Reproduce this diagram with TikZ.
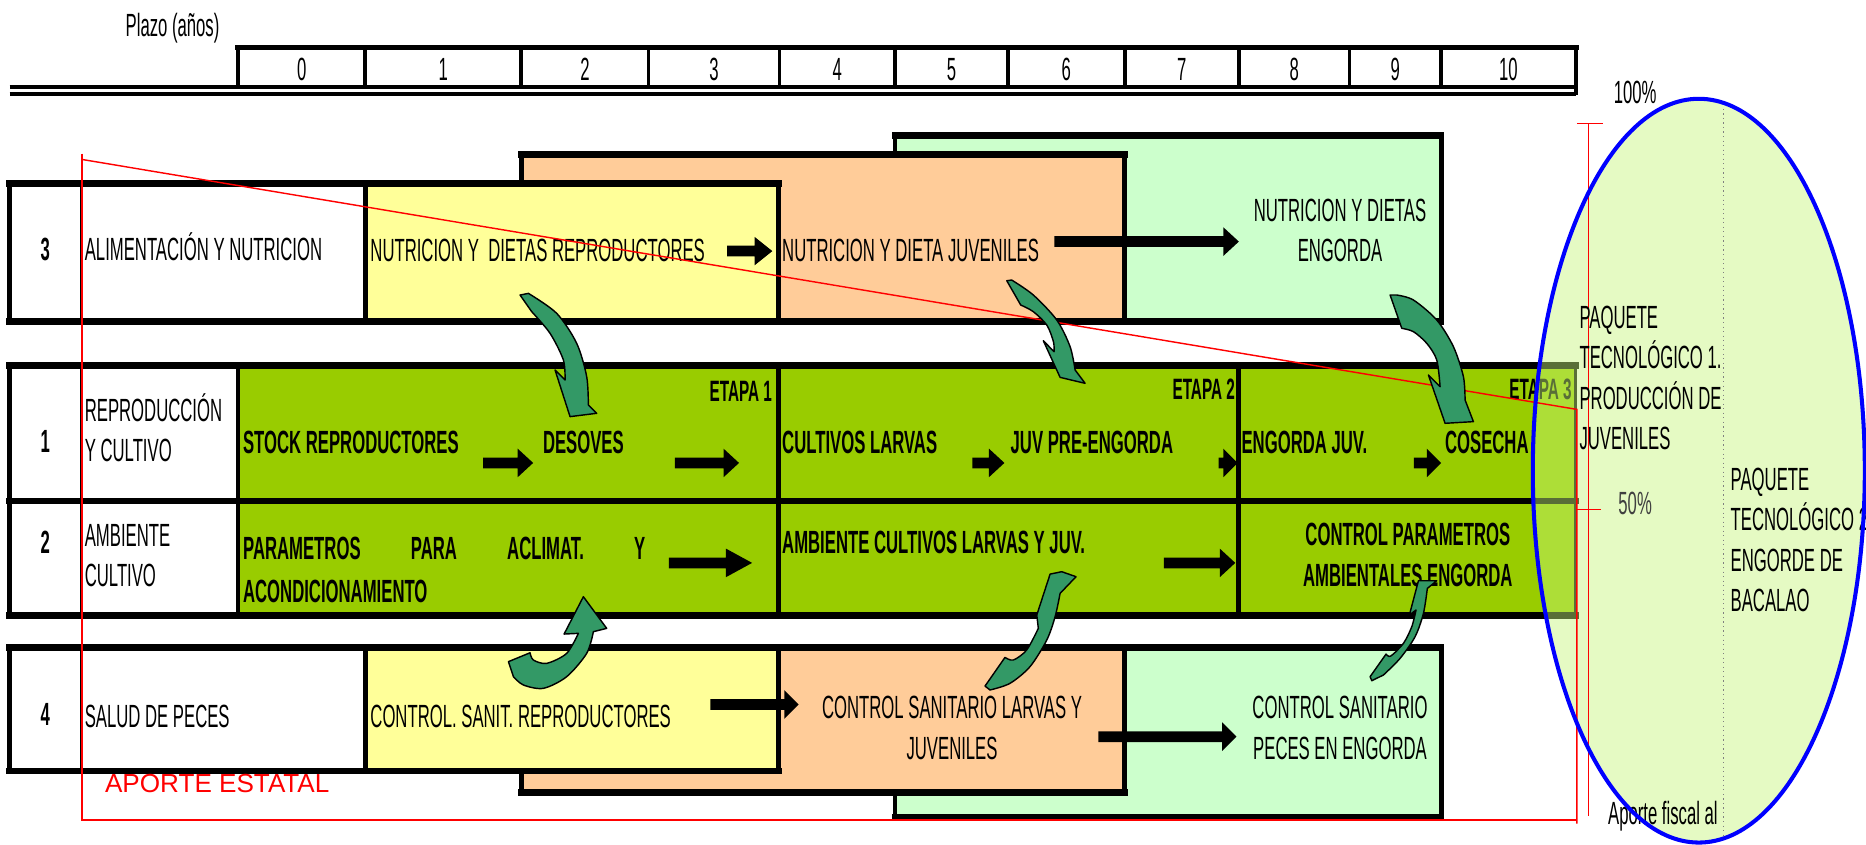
\documentclass[tikz,border=0pt]{standalone}
\usepackage{fontspec}
\setmainfont{Liberation Sans}[FakeStretch=0.52]
\newfontfamily\widefont{Liberation Sans}
\usetikzlibrary{arrows.meta}
\definecolor{yel}{HTML}{FFFF99}
\definecolor{ora}{HTML}{FFCC99}
\definecolor{lgr}{HTML}{CCFFCC}
\definecolor{bandc}{HTML}{99CC00}
\definecolor{garrow}{HTML}{339966}
\definecolor{ellfill}{RGB}{198,245,122}
\tikzset{
 hl/.style={line width=1.4mm, line cap=rect},
 vl/.style={line width=1mm},
 tl/.style={line width=0.5mm},
 redl/.style={draw=red, line width=0.3mm},
 txt/.style={inner sep=0pt, anchor=base west, font=\fontsize{19.2}{24}\selectfont},
 txtc/.style={txt, anchor=base},
 txtb/.style={txt, font=\fontsize{19.2}{24}\selectfont\bfseries},
 txtbc/.style={txtb, anchor=base},
 txte/.style={inner sep=0pt, anchor=base east, font=\fontsize{17.6}{22}\selectfont\bfseries},
 garr/.style={fill=garrow, draw=black, line width=0.3mm, line join=round},
}
\newcommand\boxit[5]{%
  \fill[#1] (#2,#3) rectangle (#4,#5);
  \draw[vl] (#2,#3) -- (#2,#5) (#4,#3) -- (#4,#5);
  \draw[hl] (#2,#3) -- (#4,#3) (#2,#5) -- (#4,#5);}
\newcommand\blkarrow[4]{%
  \fill[black] (#1,#3-4.5) -- (#2-#4,#3-4.5) -- (#2-#4,#3-12) -- (#2,#3) -- (#2-#4,#3+12) -- (#2-#4,#3+4.5) -- (#1,#3+4.5) -- cycle;}
\begin{document}
\begin{tikzpicture}[x=0.25mm,y=-0.25mm]
\useasboundingbox (0,0) rectangle (1568,710);
\fill[white] (0,0) rectangle (1568,710);
% ---------- header ----------
\node[txtc] (plazo) at (145,31) {Plazo (años)};
\draw[line width=1.2mm, line cap=rect] (200,40) -- (1324,40);
\foreach \x in {200,307,438,545,655,752,847,945,1041,1134,1211,1324}
  \draw[line width=0.8mm] (\x,40) -- (\x,73);
\draw[line width=0.75mm] (8,73) -- (1324,73);
\draw[line width=0.75mm] (8,79) -- (1324,79);
\draw[line width=0.8mm] (1324,40) -- (1324,80);
\foreach \n/\x in {0/253.5,1/372.5,2/491.5,3/600,4/703.5,5/799.5,6/896,7/993,8/1087.5,9/1172.5,10/1267.5}
  \node[txtc] (h\n) at (\x,68) {\n};
% ---------- row 3 ----------
\boxit{lgr}{752}{114}{1211}{270}
\boxit{ora}{438}{130}{945}{270}
\fill[white] (8,154) rectangle (307,270);
\fill[yel] (307,154) rectangle (654,270);
\draw[vl] (8,154) -- (8,270) (307,154) -- (307,270) (654,154) -- (654,270);
\draw[tl] (68,154) -- (68,270);
\draw[hl] (8,154) -- (654,154) (8,270) -- (654,270);
% ---------- row 4 ----------
\boxit{lgr}{752}{544}{1211}{687}
\boxit{ora}{438}{544}{945}{666}
\fill[white] (8,544) rectangle (307,648);
\fill[yel] (307,544) rectangle (654,648);
\draw[vl] (8,544) -- (8,648) (307,544) -- (307,648) (654,544) -- (654,648);
\draw[tl] (68,544) -- (68,648);
\draw[hl] (8,544) -- (654,544) (8,648) -- (654,648);
% ---------- rows 1-2 band ----------
\fill[white] (8,307) rectangle (200,517);
\fill[bandc] (200,307) rectangle (1324,517);
\draw[vl] (8,307) -- (8,517) (200,307) -- (200,517) (654,307) -- (654,517) (1041,307) -- (1041,517);
\draw[line width=0.6mm] (1324,307) -- (1324,517);
\draw[tl] (68,307) -- (68,517);
\draw[hl] (8,307) -- (1324,307) (8,421) -- (1324,421) (8,517) -- (1324,517);
% ---------- texts row 3 ----------
\node[txtbc] (n3) at (38,219) {3};
\node[txt] (alim) at (71,219) {ALIMENTACIÓN Y NUTRICION};
\node[txt] (nutrep) at (311,220) {NUTRICION Y\ \ DIETAS REPRODUCTORES};
\node[txt] (nutjuv) at (657,220) {NUTRICION Y DIETA JUVENILES};
\node[txtc] (nuteng1) at (1126,186) {NUTRICION Y DIETAS};
\node[txtc] (nuteng2) at (1126,220) {ENGORDA};
% ---------- texts row 1 ----------
\node[txtbc] (n1) at (38,380) {1};
\node[txt] (rep1) at (71,354) {REPRODUCCIÓN};
\node[txt] (rep2) at (71,388) {Y CULTIVO};
\node[txte] (et1) at (649,337) {ETAPA 1};
\node[txtb] (stock) at (204,381) {STOCK REPRODUCTORES};
\node[txtb] (desov) at (456,381) {DESOVES};
\node[txtb] (cultl) at (657,381) {CULTIVOS LARVAS};
\node[txtb] (juvpre) at (849,381) {JUV PRE-ENGORDA};
\node[txte] (et2) at (1038,336) {ETAPA 2};
\node[txtb] (engj) at (1043,381) {ENGORDA JUV.};
\node[txtb] (cosecha) at (1214,381) {COSECHA};
\node[txte] (et3) at (1321,336) {ETAPA 3};
% ---------- texts row 2 ----------
\node[txtbc] (n2) at (38,465) {2};
\node[txt] (amb1) at (71,459) {AMBIENTE};
\node[txt] (amb2) at (71,493) {CULTIVO};
\node[txtb] (param1) at (204,470) {\makebox[84.5mm][s]{PARAMETROS PARA ACLIMAT. Y}};
\node[txtb] (param2) at (204,506) {ACONDICIONAMIENTO};
\node[txtb] (ambcl) at (657,465) {AMBIENTE CULTIVOS LARVAS Y JUV.};
\node[txtbc] (ctrlp1) at (1183,458) {CONTROL PARAMETROS};
\node[txtbc] (ctrlp2) at (1183,493) {AMBIENTALES ENGORDA};
% ---------- texts row 4 ----------
\node[txtbc] (n4) at (38,610) {4};
\node[txt] (salud) at (71,611) {SALUD DE PECES};
\node[txt] (csr) at (311,611) {CONTROL. SANIT. REPRODUCTORES};
\node[txtc] (csl1) at (800,604) {CONTROL SANITARIO LARVAS Y};
\node[txtc] (csl2) at (800,638) {JUVENILES};
\node[txtc] (cse1) at (1126,604) {CONTROL SANITARIO};
\node[txtc] (cse2) at (1126,638) {PECES EN ENGORDA};
\node[anchor=base west, inner sep=0pt, text=red, font=\widefont\fontsize{15.6}{18}\selectfont] (aporte) at (88,666) {APORTE ESTATAL};
% ---------- black arrows ----------
\blkarrow{611}{649}{211}{15}
\blkarrow{886}{1041}{203}{13}
\blkarrow{406}{448}{389}{13}
\blkarrow{567}{621}{389}{13}
\blkarrow{817}{844}{389}{13}
\blkarrow{1024}{1040}{389}{12}
\blkarrow{1188}{1211}{389}{12}
\blkarrow{562}{632}{473}{22}
\blkarrow{978}{1038}{473}{13}
\blkarrow{597}{671}{592}{12}
\blkarrow{923}{1039}{619}{12}
% ---------- ellipse fill ----------
\fill[ellfill, fill opacity=0.45] (1427.5,395.5) ellipse [x radius=139.5, y radius=312.5];
\begin{scope}
  \clip (1427.5,395.5) ellipse [x radius=139.5, y radius=312.5];
  \draw[gray, dotted, line width=0.25mm] (1448,80) -- (1448,710);
\end{scope}
% ---------- red lines ----------
\draw[redl] (69,134) -- (1325,344) -- (1325,692);
\draw[redl] (69,129) -- (69,689) -- (1325,689);
\draw[redl] (1335,104) -- (1335,686);
\draw[redl] (1325,104) -- (1347,104);
\draw[redl] (1325,428) -- (1345,428);
% ---------- green curved arrows ----------
\draw[garr] (437.0,247.9) -- plot[smooth] coordinates {(444.0,246.5) (467.8,263.3) (484.6,288.5) (493.0,316.5) (494.4,340.3)}
  -- (501.4,347.3) -- (479.0,350.1) -- (466.4,310.9)
  -- plot[smooth] coordinates {(474.8,319.3) (473.4,302.5) (462.2,280.1) (446.8,261.9)} -- cycle;
\draw[garr] (846.0,235.9) -- plot[smooth] coordinates {(850.1,235.3) (868.3,247.9) (888.0,268.9) (899.2,291.3) (903.4,310.9)}
  -- (911.8,322.1) -- (890.8,317.1) -- (876.7,286.3)
  -- plot[smooth] coordinates {(885.7,295.5) (885.2,287.1) (879.6,273.1) (868.3,261.9) (857.7,256.3)} -- cycle;
\draw[garr] (1168.1,247.9) -- plot[smooth] coordinates {(1173.7,247.9) (1187.7,252.1) (1207.3,268.9) (1221.3,291.3) (1229.7,316.5) (1231.1,336.1)}
  -- (1238.1,354.3) -- (1214.3,355.7) -- (1200.3,315.1)
  -- plot[smooth] coordinates {(1210.1,324.9) (1207.3,302.5) (1198.9,288.5) (1187.7,278.7) (1177.9,275.9)} -- cycle;
\draw[garr] (427.2,556.0) -- plot[smooth] coordinates {(445.4,548.5) (448.2,554.6) (459.4,557.4) (476.2,549.0) (486.0,532.2)}
  -- (474.0,532.8) -- (490.2,501.4) -- (509.8,528.0)
  -- plot[smooth] coordinates {(498.6,530.8) (493.0,549.0) (476.2,568.6) (456.6,578.4) (439.8,575.6) (431.4,568.6)} -- cycle;
\draw[garr] (827.7,576.5) -- plot[smooth] coordinates {(844.5,552.4) (851.5,554.6) (862.7,546.2) (872.5,528.0)}
  -- (871.2,516.8) -- (882.4,482.4) -- (892.2,480.4) -- (904.2,484.6)
  -- plot[smooth] coordinates {(890.8,498.6) (886.6,518.2) (879.6,537.8) (865.5,560.2) (848.7,574.2) (831.9,579.8)} -- cycle;
\draw[garr] (1152.7,572.0) -- (1151.3,568.6) -- plot[smooth] coordinates {(1164.7,549.6) (1168.6,551.3) (1179.3,540.6) (1186.3,526.6) (1189.9,512.6)}
  -- (1184.3,516.8) -- (1191.9,488.0) -- (1207.3,488.0)
  -- plot[smooth] coordinates {(1199.4,494.4) (1196.1,515.4) (1189.1,535.0) (1176.5,553.2) (1162.5,567.2)} -- cycle;
% ---------- ellipse texts ----------
\node[txtc] (p100) at (1374,87) {100\%};
\node[txt] (pqa1) at (1327,276) {PAQUETE};
\node[txt] (pqa2) at (1327,310) {TECNOLÓGICO 1.};
\node[txt] (pqa3) at (1327,344) {PRODUCCIÓN DE};
\node[txt] (pqa4) at (1327,378) {JUVENILES};
\node[txtc, text=black!75] (p50) at (1374,432) {50\%};
\node[txt] (pqb1) at (1454,412) {PAQUETE};
\node[txt] (pqb2) at (1454,446) {TECNOLÓGICO 2};
\node[txt] (pqb3) at (1454,480) {ENGORDE DE};
\node[txt] (pqb4) at (1454,514) {BACALAO};
\node[txt] (fiscal) at (1351,693) {Aporte fiscal al};
\draw[blue, line width=0.85mm] (1427.5,395.5) ellipse [x radius=139.5, y radius=312.5];
\end{tikzpicture}
\end{document}
